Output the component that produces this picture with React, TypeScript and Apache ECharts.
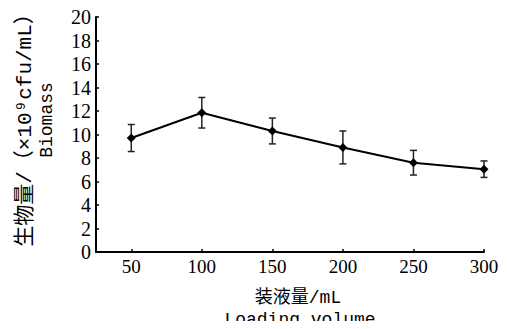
import React, { useEffect, useRef } from "react";
import * as echarts from "echarts";

const volumes = [50, 100, 150, 200, 250, 300];
const biomass = [9.7, 11.85, 10.3, 8.9, 7.6, 7.05];
const errors = [1.15, 1.3, 1.1, 1.4, 1.05, 0.7];
const yTicks = [0, 2, 4, 6, 8, 10, 12, 14, 16, 18, 20];

const FONT = "'Liberation Mono', 'Noto Sans CJK SC', monospace";
const NUM_FONT = "'Liberation Serif', serif";

export default function App() {
  const ref = useRef<HTMLDivElement>(null);
  useEffect(() => {
    if (!ref.current) return;
    const chart = echarts.init(ref.current, undefined, { renderer: "svg" });
    const lineData = volumes.map((v, i) => [v, biomass[i]]);
    const errData = volumes.map((v, i) => [v, biomass[i] - errors[i], biomass[i] + errors[i]]);
    chart.setOption({
      animation: false,
      backgroundColor: "#ffffff",
      grid: { left: 96, right: 23, top: 17, bottom: 77 },
      xAxis: {
        type: "value",
        min: 25,
        max: 300,
        splitLine: { show: false },
        axisLine: { lineStyle: { color: "#000", width: 2 } },
        axisTick: { inside: true, length: 3, lineStyle: { color: "#000", width: 1.5 }, customValues: volumes },
        axisLabel: { color: "#000", fontFamily: NUM_FONT, fontSize: 19, margin: 5, customValues: volumes },
      },
      yAxis: {
        type: "value",
        min: 0,
        max: 20,
        interval: 2,
        splitLine: { show: false },
        axisLine: { show: true, lineStyle: { color: "#000", width: 2 } },
        axisTick: { show: true, inside: true, length: 3, lineStyle: { color: "#000", width: 1.5 } },
        axisLabel: {
          color: "#000",
          fontFamily: NUM_FONT,
          fontSize: 20,
          margin: 5,
          formatter: (v: number) => (yTicks.includes(v) ? String(v) : ""),
        },
      },
      graphic: [
        {
          type: "text",
          x: 25,
          y: 125,
          rotation: Math.PI / 2,
          style: {
            text: "生物量/（×10⁹cfu/mL）",
            fontFamily: FONT,
            fontSize: 21,
            fill: "#000",
            align: "center",
            verticalAlign: "middle",
          },
        },
        {
          type: "text",
          x: 47,
          y: 120,
          rotation: Math.PI / 2,
          style: {
            text: "Biomass",
            fontFamily: FONT,
            fontSize: 18,
            fill: "#000",
            align: "center",
            verticalAlign: "middle",
          },
        },
        {
          type: "text",
          x: 298,
          y: 298,
          style: {
            text: "装液量/mL",
            fontFamily: FONT,
            fontSize: 18,
            fill: "#000",
            align: "center",
            verticalAlign: "middle",
          },
        },
        {
          type: "text",
          x: 300,
          y: 320,
          style: {
            text: "Loading volume",
            fontFamily: FONT,
            fontSize: 18,
            fill: "#000",
            align: "center",
            verticalAlign: "middle",
          },
        },
      ],
      series: [
        {
          type: "custom",
          data: errData,
          z: 1,
          renderItem: (params: any, api: any) => {
            const x = api.value(0);
            const lo = api.coord([x, api.value(1)]);
            const hi = api.coord([x, api.value(2)]);
            const hw = 3.5;
            const st = { stroke: "#222", lineWidth: 1.5 };
            return {
              type: "group",
              children: [
                { type: "line", shape: { x1: lo[0], y1: lo[1], x2: hi[0], y2: hi[1] }, style: st },
                { type: "line", shape: { x1: lo[0] - hw, y1: lo[1], x2: lo[0] + hw, y2: lo[1] }, style: st },
                { type: "line", shape: { x1: hi[0] - hw, y1: hi[1], x2: hi[0] + hw, y2: hi[1] }, style: st },
              ],
            };
          },
        },
        {
          type: "line",
          data: lineData,
          z: 2,
          symbol: "diamond",
          symbolSize: 9,
          itemStyle: { color: "#000" },
          lineStyle: { color: "#000", width: 2 },
        },
      ],
    });
    return () => chart.dispose();
  }, []);
  return <div ref={ref} style={{ width: 507, height: 329, margin: -8 }} />;
}
